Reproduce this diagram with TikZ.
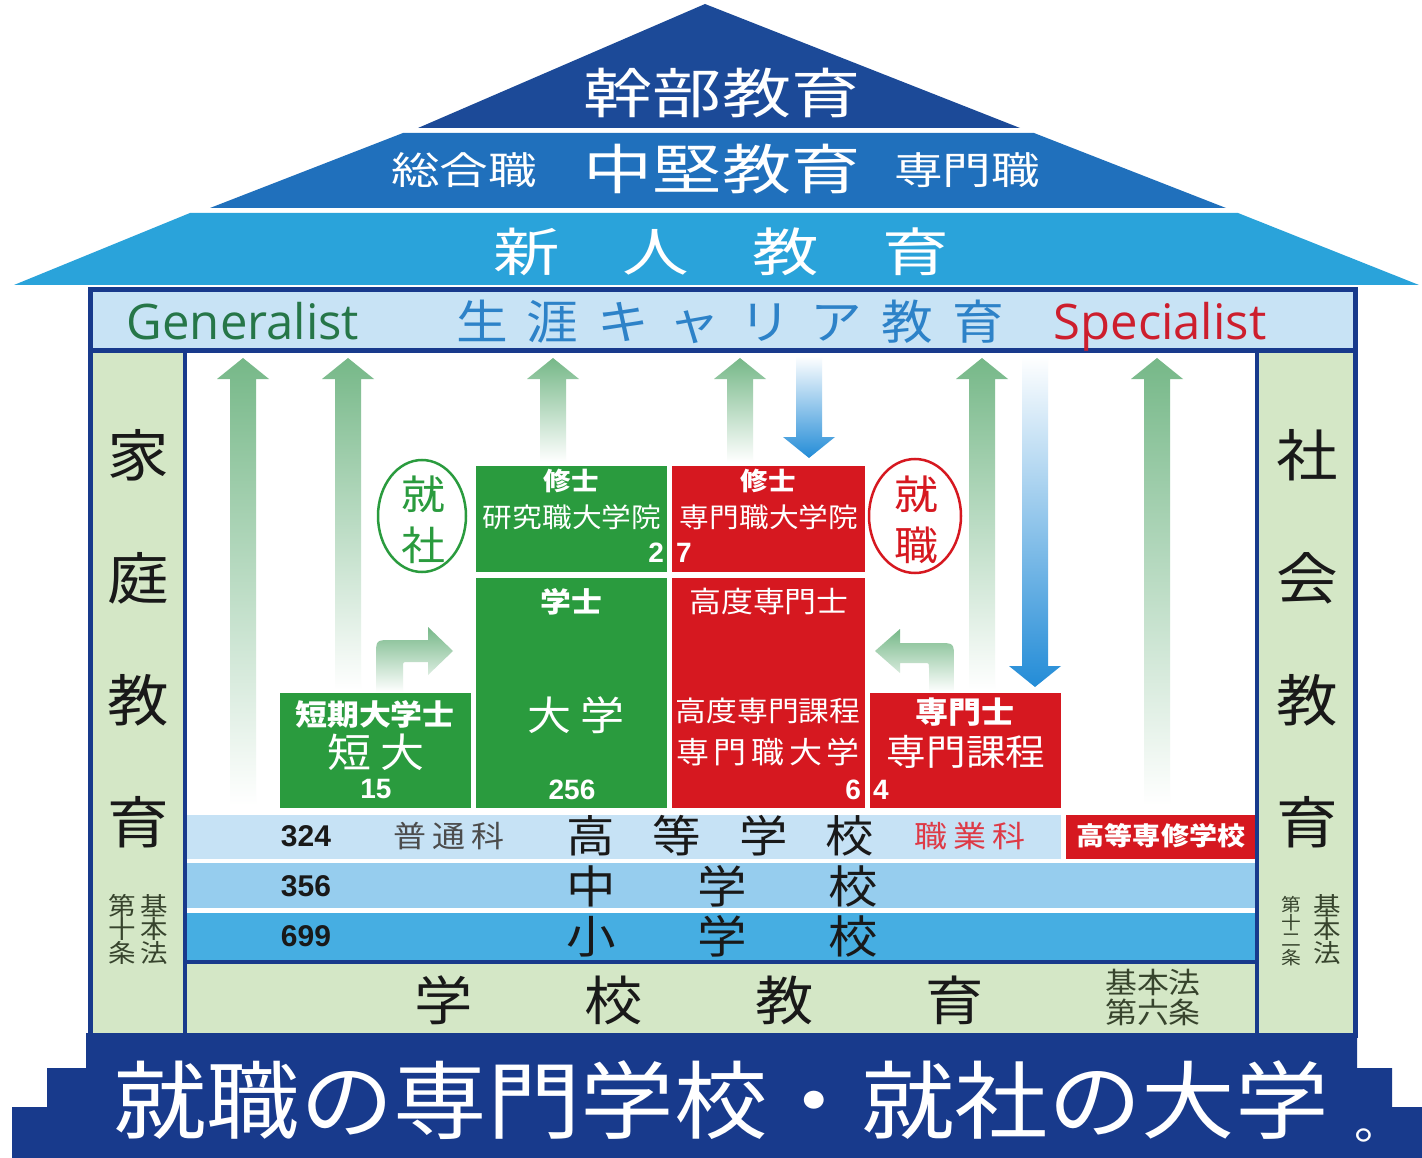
\documentclass[tikz,border=0pt]{standalone}
\usepackage{fontspec}
\usepackage{graphicx}
\newfontfamily\jp[FakeStretch=1.1]{Noto Sans CJK JP}
\newfontfamily\jpw[FakeStretch=1.28]{Noto Sans CJK JP}
\newfontfamily\lat{Open Sans}
\newfontfamily\num{Liberation Sans}
\usetikzlibrary{shapes.geometric}
\newcommand{\fs}[1]{\fontsize{#1}{#1}\selectfont}
\definecolor{navy}{RGB}{24,58,140}
\definecolor{roofA}{RGB}{28,74,152}
\definecolor{roofB}{RGB}{32,112,188}
\definecolor{roofC}{RGB}{42,163,218}
\definecolor{bandblue}{RGB}{200,227,245}
\definecolor{lgreen}{RGB}{212,231,198}
\definecolor{rowA}{RGB}{198,226,245}
\definecolor{rowB}{RGB}{150,205,238}
\definecolor{rowC}{RGB}{70,174,226}
\definecolor{boxgreen}{RGB}{42,155,62}
\definecolor{boxred}{RGB}{214,24,32}
\definecolor{gentext}{RGB}{38,118,72}
\definecolor{cartext}{RGB}{45,130,200}
\definecolor{spectext}{RGB}{205,30,45}
\definecolor{arrg}{RGB}{118,184,136}
\definecolor{arrb}{RGB}{35,140,215}
\definecolor{lawtext}{RGB}{55,68,45}
\definecolor{shokutext}{RGB}{222,58,70}
\definecolor{darktext}{RGB}{25,25,25}
\newcommand{\uparr}[3]{%
 \shade[top color=arrg, bottom color=white] (#1-13,#3) -- (#1-13,#2+21) -- (#1-26,#2+21) -- (#1,#2) -- (#1+26,#2+21) -- (#1+13,#2+21) -- (#1+13,#3) -- cycle;}
\newcommand{\dnarr}[3]{%
 \shade[top color=white, bottom color=arrb] (#1-13,#2) -- (#1+13,#2) -- (#1+13,#3-21) -- (#1+26,#3-21) -- (#1,#3) -- (#1-26,#3-21) -- (#1-13,#3-21) -- cycle;}
\begin{document}
\begin{tikzpicture}[x=1pt,y=-1pt,
  every node/.style={inner sep=0pt, outer sep=0pt},
  wt/.style={text=white, font=\jp\fs{#1}},
  rt/.style={text=white, font=\jpw\fs{#1}},
  bt/.style={text=darktext, font=\jp\fs{#1}},
  wb/.style={text=white, font=\jp\bfseries\fs{#1}},
  nm/.style={text=white, font=\num\bfseries\fs{#1}},
  rownum/.style={text=darktext, font=\num\bfseries\fs{30}},
  law/.style={text=lawtext, font=\jp\fs{#1}},
  gbox/.style={fill=boxgreen},
  rbox/.style={fill=boxred},
  frameline/.style={draw=navy, line width=5pt}]
\useasboundingbox (0,0) rectangle (1422,1158);
\fill[white] (0,0) rectangle (1422,1158);
% roof
\fill[roofA] (705,4) -- (1020,128) -- (418,128) -- cycle;
\fill[roofB] (403,133) -- (1034,133) -- (1226,208) -- (210,208) -- cycle;
\fill[roofC] (190,213) -- (1238,213) -- (1419,285) -- (14,285) -- cycle;
\node[rt=54] (kanbu) at (722,93) {幹部教育};
\node[rt=38] (sogo) at (464,170) {総合職};
\node[rt=54] (chuken) at (722,169) {中堅教育};
\node[rt=38] (senmonshoku) at (967,170) {専門職};
\node[rt=52] (shinjin) at (721,252) {\makebox[456pt][s]{新\hfill 人\hfill 教\hfill 育}};
% base
\fill[navy] (86,1033) -- (1357,1033) -- (1357,1068) -- (1392,1068) -- (1392,1107) -- (1422,1107) -- (1422,1158) -- (12,1158) -- (12,1107) -- (47,1107) -- (47,1068) -- (86,1068) -- cycle;
% body fills
\fill[bandblue] (90,290) rectangle (1355,351);
\fill[lgreen] (90,351) rectangle (185,1035);
\fill[lgreen] (1257,351) rectangle (1355,1035);
\fill[rowA] (185,815) rectangle (1061,859);
\fill[boxred] (1066,815) rectangle (1257,859);
\fill[rowB] (185,863) rectangle (1257,908);
\fill[rowC] (185,913) rectangle (1257,962);
\fill[lgreen] (185,962) rectangle (1257,1035);
% frame lines
\draw[frameline] (90,290) rectangle (1355,1035);
\draw[frameline] (90,351) -- (1355,351);
\draw[navy, line width=4pt] (185,351) -- (185,1035);
\draw[navy, line width=4pt] (1257,351) -- (1257,1035);
\draw[navy, line width=4pt] (185,962) -- (1257,962);
% arrows
\uparr{243}{358}{805}
\uparr{348}{358}{690}
\uparr{553}{358}{462}
\uparr{740}{358}{462}
\uparr{982}{358}{690}
\uparr{1157}{358}{805}
\dnarr{809}{356}{458}
\dnarr{1035}{356}{687}
\shade[top color=arrg, bottom color=white] (376,692) -- (376,656) .. controls (376,640) .. (392,640) -- (428,640) -- (428,627) -- (453,651) -- (428,675) -- (428,662) -- (408,662) .. controls (403,662) .. (403,667) -- (403,692) -- cycle;
\shade[top color=arrg, bottom color=white] (954,692) -- (954,659) .. controls (954,643) .. (938,643) -- (900,643) -- (900,629) -- (875,651) -- (900,673) -- (900,663) -- (924,663) .. controls (929,663) .. (929,668) -- (929,692) -- cycle;
% band texts
\node[anchor=base, text=gentext, font=\lat\fs{49}] (gen) at (243,340) {Generalist};
\node[text=cartext, font=\jp\fs{47}] (career) at (730,322) {\makebox[548pt][s]{生\hfill 涯\hfill キ\hfill ャ\hfill リ\hfill ア\hfill 教\hfill 育}};
\node[anchor=base, text=spectext, font=\lat\fs{49}] (spec) at (1160,340) {Specialist};
% side columns
\node[bt=56] (ka) at (138,455) {家};
\node[bt=56] (tei) at (138,578) {庭};
\node[bt=56] (kyoL) at (138,700) {教};
\node[bt=56] (ikuL) at (138,822) {育};
\node[bt=56] (sha) at (1307,455) {社};
\node[bt=56] (kai) at (1307,578) {会};
\node[bt=56] (kyoR) at (1307,700) {教};
\node[bt=56] (ikuR) at (1307,822) {育};
\node[law=25] (l1a) at (122,906) {第};
\node[law=25] (l1b) at (122,929) {十};
\node[law=25] (l1c) at (122,953) {条};
\node[law=25] (l2a) at (154,906) {基};
\node[law=25] (l2b) at (154,929) {本};
\node[law=25] (l2c) at (154,953) {法};
\node[law=18] (r1a) at (1291,905) {第};
\node[law=18] (r1b) at (1291,923) {十};
\node[law=18] (r1c) at (1291,940) {二};
\node[law=18] (r1d) at (1291,958) {条};
\node[law=25] (r2a) at (1327,906) {基};
\node[law=25] (r2b) at (1327,929) {本};
\node[law=25] (r2c) at (1327,953) {法};
% boxes
\node[gbox, minimum width=191, minimum height=115] (tandai) at (375.5,750.5) {};
\node[gbox, minimum width=191, minimum height=106] (kenkyu) at (571.5,519) {};
\node[gbox, minimum width=191, minimum height=230] (daigaku) at (571.5,693) {};
\node[rbox, minimum width=193, minimum height=106] (senmonin) at (768.5,519) {};
\node[rbox, minimum width=193, minimum height=230] (koudo) at (768.5,693) {};
\node[rbox, minimum width=191, minimum height=115] (senmonshi) at (965.5,750.5) {};
% box texts
\node[wb=25] (shushiG) at (571,481) {修士};
\node[wt=27] (kenkyuT) at (572,517) {研究職大学院};
\node[nm=28, anchor=east] (n2) at (664,553) {2};
\node[wb=25] (shushiR) at (768,481) {修士};
\node[wt=27] (senmoninT) at (769,517) {専門職大学院};
\node[nm=28, anchor=west] (n7) at (676,553) {7};
\node[wb=28] (gakushi) at (571,602) {学士};
\node[wt=40] (daigakuT) at (576,715) {\makebox[98pt][s]{大\hfill 学}};
\node[nm=28] (n256) at (572,790) {256};
\node[wb=29] (tankishi) at (375,714) {短期大学士};
\node[wt=40] (tandaiT) at (376,752) {\makebox[98pt][s]{短\hfill 大}};
\node[nm=28] (n15) at (376,789) {15};
\node[wt=29] (koudoshi) at (769,602) {高度専門士};
\node[wt=28] (koudokatei) at (768,711) {高度専門課程};
\node[wt=30] (senmondai) at (768,752) {\makebox[184pt][s]{専\hfill 門\hfill 職\hfill 大\hfill 学}};
\node[nm=28, anchor=east] (n6) at (861,790) {6};
\node[nm=28, anchor=west] (n4) at (873,790) {4};
\node[wb=30] (senmonshiT) at (965,712) {専門士};
\node[wt=36] (senmonkatei) at (966,752) {専門課程};
% circles
\node[ellipse, draw=boxgreen, line width=2.5pt, minimum width=88, minimum height=112] (shusha) at (422,516) {};
\node[text=boxgreen, font=\jp\fs{40}] (shushaA) at (423,494) {就};
\node[text=boxgreen, font=\jp\fs{40}] (shushaB) at (423,545) {社};
\node[ellipse, draw=boxred, line width=2.5pt, minimum width=92, minimum height=114] (shushoku) at (915,516) {};
\node[text=boxred, font=\jp\fs{40}] (shushokuA) at (916,494) {就};
\node[text=boxred, font=\jp\fs{40}] (shushokuB) at (916,545) {職};
% rows
\node[rownum] (n324) at (306,836) {324};
\node[rownum] (n356) at (306,886) {356};
\node[rownum] (n699) at (306,936) {699};
\node[text=black!70, font=\jp\fs{30}] (futsu) at (449,836) {\makebox[112pt][s]{普\hfill 通\hfill 科}};
\node[bt=44] (koukou) at (720,836) {\makebox[308pt][s]{高\hfill 等\hfill 学\hfill 校}};
\node[text=shokutext, font=\jp\fs{30}] (shokugyo) at (970,836) {\makebox[112pt][s]{職\hfill 業\hfill 科}};
\node[wb=25.5] (senshu) at (1161,836) {高等専修学校};
\node[bt=45] (chugaku) at (722,886) {\makebox[312pt][s]{中\hfill 学\hfill 校}};
\node[bt=45] (shogaku) at (722,936) {\makebox[312pt][s]{小\hfill 学\hfill 校}};
\node[bt=53] (gakko) at (699,1000) {\makebox[570pt][s]{学\hfill 校\hfill 教\hfill 育}};
\node[law=29] (kihon6a) at (1153,983) {基本法};
\node[law=29] (kihon6b) at (1153,1012) {第六条};
% base text
\node[wt=85] (slogan) at (721,1100) {就職の専門学校・就社の大学};
\node[wt=44, anchor=base west] (maru) at (1354,1139) {。};
\end{tikzpicture}
\end{document}
